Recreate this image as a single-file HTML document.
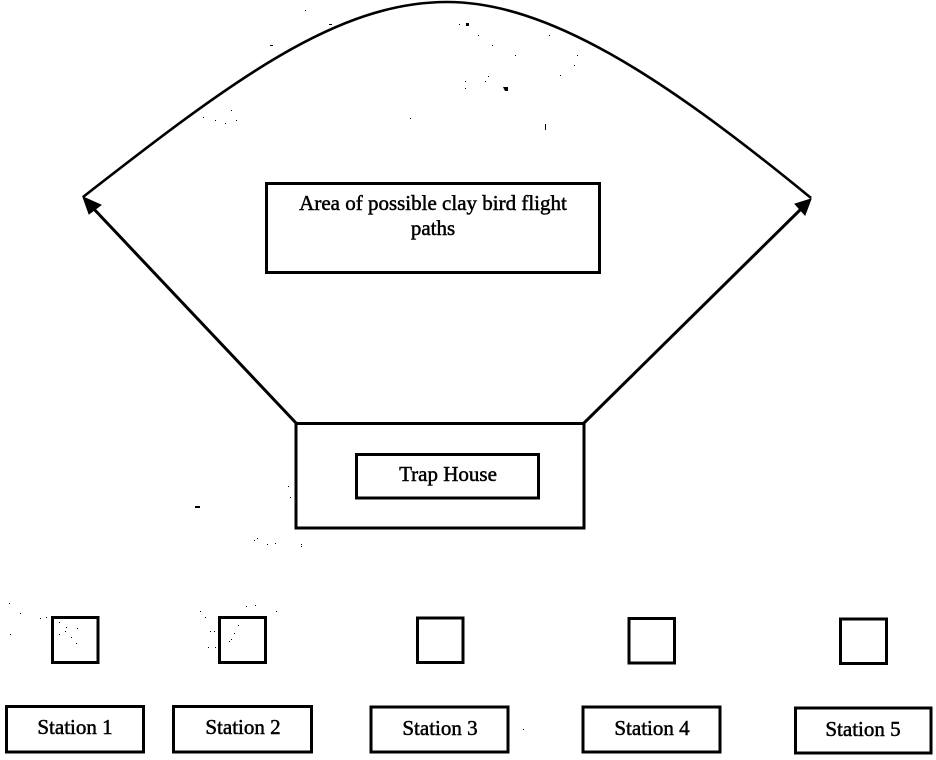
<!DOCTYPE html>
<html><head><meta charset="utf-8"><style>
html,body{margin:0;padding:0;background:#fff;width:936px;height:760px;overflow:hidden}
svg{display:block}
text{font-family:"Liberation Serif",serif;font-size:21px;fill:#000;stroke:#000;stroke-width:.5px;text-anchor:middle}
</style></head><body>
<svg width="936" height="760" viewBox="0 0 936 760" xmlns="http://www.w3.org/2000/svg">
<g fill="none" stroke="#000" stroke-width="3">
<path stroke-width="2.6" stroke-linejoin="round" d="M83,197 C233,80 337,2 447,2 C547,2 661,75 811,198"/>
<line x1="296" y1="423" x2="92" y2="207"/>
<line x1="584" y1="423" x2="802" y2="208"/>
<rect x="266.500" y="183.500" width="333" height="89"/>
<rect x="296" y="423.500" width="288" height="104.500"/>
<rect x="356.500" y="454.500" width="182" height="43.500"/>
<rect x="52.500" y="617.500" width="45.500" height="45"/>
<rect x="219.500" y="617.500" width="46" height="45"/>
<rect x="417.500" y="618" width="45.500" height="44.500"/>
<rect x="629" y="618.500" width="45.500" height="44.500"/>
<rect x="840.500" y="619" width="46" height="44.500"/>
<rect x="6.500" y="706.500" width="137" height="45.500"/>
<rect x="173.500" y="706.500" width="138" height="45.500"/>
<rect x="371" y="707" width="137" height="45"/>
<rect x="583" y="707" width="137" height="45"/>
<rect x="795.500" y="708" width="135.500" height="45"/>
</g>
<polygon points="83,197 101,205 89,214" fill="#000" stroke="#000"/>
<polygon points="811,199 795,204 805,215" fill="#000" stroke="#000"/>
<path fill="#000" d="M503 87h5v4h-3zM466 23h3v3h-3zM195 506h5v2h-5zM270 45h3v1h-3zM329 24h3v1h-3zM305 10h1v1h-1zM271 45h1v1h-1zM459 24h1v1h-1zM478 35h1v1h-1zM492 45h1v1h-1zM515 55h1v1h-1zM549 35h1v1h-1zM577 55h1v1h-1zM574 65h1v1h-1zM560 75h1v1h-1zM545 124h1v6h-1zM465 81h1v1h-1zM488 76h1v1h-1zM485 81h1v1h-1zM465 88h1v1h-1zM410 118h1v1h-1zM231 110h1v1h-1zM203 117h1v1h-1zM215 120h1v1h-1zM225 123h1v1h-1zM236 120h1v1h-1zM254 540h1v1h-1zM257 538h1v1h-1zM267 544h1v1h-1zM275 543h1v1h-1zM301 544h1v1h-1zM301 546h1v1h-1zM288 486h1v1h-1zM290 497h1v1h-1zM9 603h1v1h-1zM20 613h1v1h-1zM10 634h1v1h-1zM40 618h1v1h-1zM46 617h1v1h-1zM59 622h1v1h-1zM66 627h1v1h-1zM59 634h1v1h-1zM65 631h1v1h-1zM71 637h1v1h-1zM76 643h1v1h-1zM77 628h1v1h-1zM200 611h1v1h-1zM205 617h1v1h-1zM210 631h1v1h-1zM214 631h1v1h-1zM208 647h1v1h-1zM215 647h1v1h-1zM246 606h1v1h-1zM255 605h1v1h-1zM276 611h1v1h-1zM238 625h1v1h-1zM234 633h1v1h-1zM231 639h1v1h-1zM229 641h1v1h-1zM523 729h1v1h-1z"/>
<text x="433" y="210">Area of possible clay bird flight</text>
<text x="433" y="235">paths</text>
<text x="448" y="481">Trap House</text>
<text x="75" y="734">Station 1</text>
<text x="243" y="734">Station 2</text>
<text x="440" y="735">Station 3</text>
<text x="652" y="735">Station 4</text>
<text x="863" y="736">Station 5</text>
</svg>
</body></html>
